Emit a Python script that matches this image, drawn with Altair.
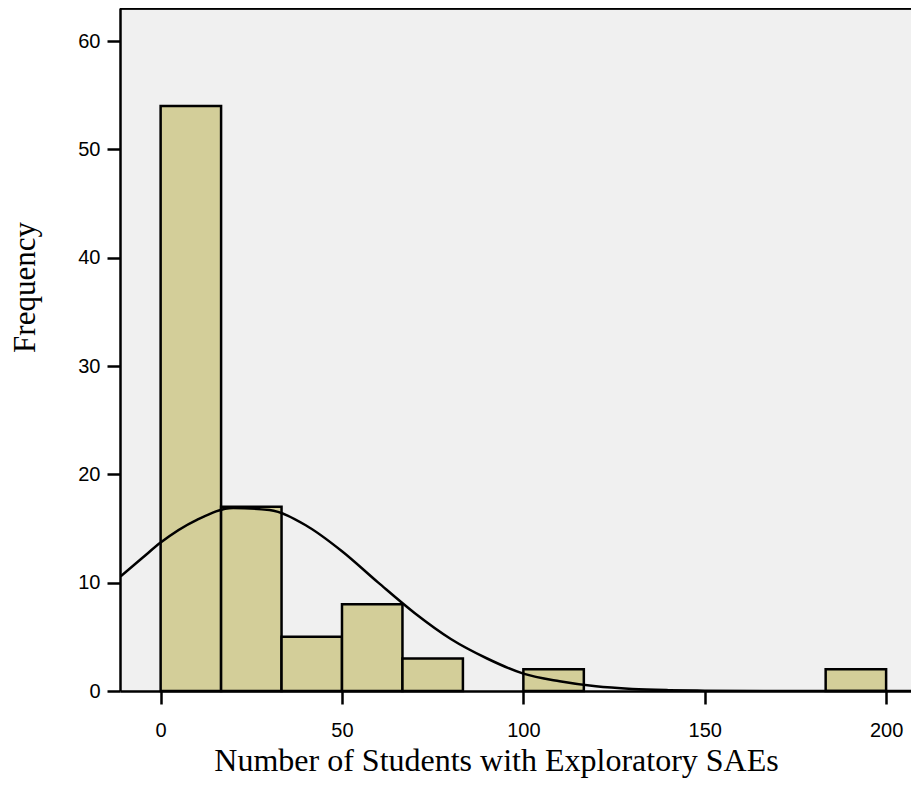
import altair as alt
import pandas as pd

# Histogram bins (value range of each bar) and frequencies
bin_lo = [0.0, 16.667, 33.333, 50.0, 66.667, 100.0, 183.333]
bin_hi = [16.667, 33.333, 50.0, 66.667, 83.333, 116.667, 200.0]
freq = [54, 17, 5, 8, 3, 2, 2]

# Normal curve
curve_x = [-11, -5, 0, 10, 20, 30, 40, 50, 60, 70, 80, 90, 100, 110, 120, 130, 140, 150, 170, 190, 209]
curve_y = [10.6, 12.3, 13.7, 15.8, 16.9, 16.7, 15.3, 12.9, 10.0, 7.2, 4.8, 3.0, 1.6, 0.9, 0.43, 0.19, 0.08, 0.03, 0.0, 0.0, 0.0]

x_ticks = [0, 50, 100, 150, 200]
y_ticks = [0, 10, 20, 30, 40, 50, 60]

bars = pd.DataFrame({"lo": bin_lo, "hi": bin_hi, "freq": freq})
curve = pd.DataFrame({"x": curve_x, "y": curve_y})

W, H = 791, 683
xscale = alt.Scale(domain=[-11.2, 206.86], nice=False, zero=False)
yscale = alt.Scale(domain=[0, 63.05], nice=False, zero=False)

xaxis = alt.Axis(
    values=x_ticks, grid=False, domainColor="black", domainWidth=2.5,
    tickColor="black", tickWidth=2.5, tickSize=13,
    labelFont="Liberation Sans", labelFontSize=20, labelColor="black", labelPadding=16,
    title="Number of Students with Exploratory SAEs",
    titleFont="Liberation Serif", titleFontSize=32, titleFontWeight="normal", titleColor="black",
    titleX=376, titleY=79, titleBaseline="alphabetic", titleAlign="center",
)
yaxis = alt.Axis(
    values=y_ticks, grid=False, domainColor="black", domainWidth=2.5,
    tickColor="black", tickWidth=2.5, tickSize=13,
    labelFont="Liberation Sans", labelFontSize=20, labelColor="black", labelPadding=7,
    title="Frequency",
    titleFont="Liberation Serif", titleFontSize=31, titleFontWeight="normal", titleColor="black",
    titleX=-86, titleY=279, titleAngle=270, titleBaseline="alphabetic", titleAlign="center",
)

bar_layer = alt.Chart(bars).mark_rect(fill="#d3ce99", stroke="black", strokeWidth=2.5).encode(
    x=alt.X("lo:Q", scale=xscale, axis=xaxis),
    x2="hi:Q",
    y=alt.Y("freq:Q", scale=yscale, axis=yaxis),
    y2=alt.datum(0),
)

line_layer = alt.Chart(curve).mark_line(color="black", strokeWidth=2.5, interpolate="monotone", clip=True).encode(
    x=alt.X("x:Q", scale=xscale),
    y=alt.Y("y:Q", scale=yscale),
)

top_border = alt.Chart(bars).mark_rule(color="black", strokeWidth=2.5).encode(
    x=alt.value(0), x2=alt.value(W), y=alt.value(0)
)

chart = alt.layer(bar_layer, line_layer, top_border).properties(
    width=W, height=H,
    autosize=alt.AutoSizeParams(type="none"),
    padding={"left": 112, "top": 0, "right": 0, "bottom": 87},
    background="white",
).configure_view(stroke=None, fill="#f0f0f0")

chart.save("out.html", embed_options={"renderer": "svg", "actions": False})
